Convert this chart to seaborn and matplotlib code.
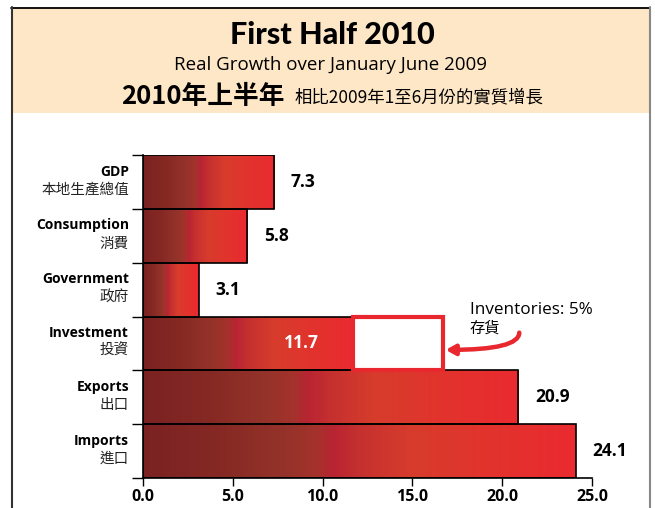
import numpy as np
import pandas as pd
import matplotlib
matplotlib.use("Agg")
import matplotlib.pyplot as plt
from matplotlib.colors import LinearSegmentedColormap
from matplotlib.patches import Rectangle
from matplotlib.lines import Line2D
import seaborn as sns

# --- data -----------------------------------------------------------------
categories_en = ["GDP", "Consumption", "Government", "Investment", "Exports", "Imports"]
categories_zh = ["本地生產總值", "消費", "政府", "投資", "出口", "進口"]
growth = [7.3, 5.8, 3.1, 11.7, 20.9, 24.1]
inventories = 5.0
inventories_label = "Inventories: 5%"
x_ticks = [0.0, 5.0, 10.0, 15.0, 20.0, 25.0]

df = pd.DataFrame({"category": categories_en, "growth": growth})

# --- style ----------------------------------------------------------------
sns.set_theme(style="white")
EN = ["Open Sans", "Noto Sans CJK TC", "DejaVu Sans"]
ZH = ["Noto Sans CJK TC", "DejaVu Sans"]
plt.rcParams["font.family"] = EN
for key in ["text.color", "axes.labelcolor", "xtick.color", "ytick.color"]:
    plt.rcParams[key] = "black"

fig = plt.figure(figsize=(6.55, 5.08), dpi=100)
fig.patch.set_facecolor("white")

# header band and frame
W, H = 655.0, 508.0
fig.add_artist(Rectangle((12 / W, 1 - 113 / H), (649 - 12) / W, (113 - 8) / H,
                         transform=fig.transFigure, facecolor="#fee7c6",
                         edgecolor="none", zorder=0))
fig.add_artist(Line2D([11 / W, 649 / W], [1 - 7.5 / H, 1 - 7.5 / H],
                      transform=fig.transFigure, color="black", lw=1.3))
fig.add_artist(Line2D([11.5 / W, 11.5 / W], [0, 1 - 7 / H],
                      transform=fig.transFigure, color="#333333", lw=1.5))
fig.add_artist(Line2D([649.5 / W, 649.5 / W], [0, 1 - 7 / H],
                      transform=fig.transFigure, color="#888888", lw=1.5))

fig.text(332 / W, 1 - 35 / H, "First Half 2010", ha="center", va="center",
         fontsize=22, fontweight="black", family=["Lato", "DejaVu Sans"])
fig.text(331 / W, 1 - 65 / H, "Real Growth over January June 2009",
         ha="center", va="center", fontsize=13.5, family=EN)
fig.text(121 / W, 1 - 96 / H, "2010年上半年", ha="left", va="center",
         fontsize=18.5, fontweight="bold", family=ZH)
fig.text(295 / W, 1 - 97 / H, "相比2009年1至6月份的實質增長", ha="left",
         va="center", fontsize=12.5, family=ZH)

# --- bars -----------------------------------------------------------------
ax = fig.add_axes([143 / W, (H - 478) / H, (592 - 143) / W, (478 - 155) / H])
sns.barplot(data=df, x="growth", y="category", orient="h", width=1.0,
            color="#d8302c", edgecolor="black", linewidth=1.2, ax=ax)

grad_cmap = LinearSegmentedColormap.from_list("bar_grad", [
    (0.00, "#7a2222"), (0.18, "#862924"), (0.33, "#95332a"),
    (0.40, "#a4322c"), (0.44, "#b92433"), (0.50, "#c5302f"),
    (0.62, "#d73c2c"), (0.80, "#e2332d"), (1.00, "#ea2a30")])
gradient = np.linspace(0, 1, 256).reshape(1, -1)

for patch in list(ax.patches):
    x0, y0 = patch.get_x(), patch.get_y()
    w, h = patch.get_width(), patch.get_height()
    im = ax.imshow(gradient, cmap=grad_cmap, aspect="auto",
                   extent=[x0, x0 + w, y0 + h, y0], zorder=1,
                   interpolation="bicubic")
    im.set_clip_path(patch)
    patch.set_facecolor("none")
    patch.set_zorder(2)

# inventories segment stacked on the investment bar
inv_idx = categories_en.index("Investment")
ax.barh(inv_idx, inventories, left=growth[inv_idx], height=1.0,
        facecolor="white", edgecolor="#e8272e", linewidth=3, zorder=3)

ax.set_xlim(0, 25)
ax.set_ylim(len(categories_en) - 0.5, -0.5)

# value labels
for i, v in enumerate(growth):
    if categories_en[i] == "Investment":
        ax.text(v - 2.9, i, f"{v:.1f}", ha="center", va="center",
                color="white", fontsize=12.5, fontweight="bold", zorder=4)
    else:
        ax.annotate(f"{v:.1f}", xy=(v, i), xytext=(12, 0),
                    textcoords="offset points", ha="left", va="center",
                    fontsize=12.5, fontweight="bold", color="black")

# two-line category labels
for i, (en, zh) in enumerate(zip(categories_en, categories_zh)):
    ax.annotate(en, xy=(0, i), xytext=(-10, 7.5), textcoords="offset points",
                ha="right", va="center", fontsize=10, fontweight="bold",
                annotation_clip=False)
    ax.annotate(zh, xy=(0, i), xytext=(-10, -5.5), textcoords="offset points",
                ha="right", va="center", fontsize=10.5, family=ZH,
                color="#222222", annotation_clip=False)

# inventories callout
ax.text(18.2, 2.38, inventories_label, ha="left", va="center", fontsize=12.3)
ax.text(18.2, 2.72, "存貨", ha="left", va="center", fontsize=11, family=ZH)
ax.annotate("", xy=(16.85, 3.12), xytext=(20.95, 2.8),
            arrowprops=dict(arrowstyle="-|>,head_length=0.45,head_width=0.25",
                            color="#e8272e", lw=3.2,
                            connectionstyle="angle3,angleA=90,angleB=0",
                            shrinkA=0, shrinkB=0), annotation_clip=False)

# axes styling
ax.set_xlabel("")
ax.set_ylabel("")
ax.set_xticks(x_ticks)
ax.set_xticklabels([f"{t:.1f}" for t in x_ticks], fontsize=11.5,
                   fontweight="bold")
ax.set_yticks(np.arange(-0.5, len(categories_en) + 0.5, 1.0))
ax.set_yticklabels([])
ax.tick_params(axis="y", length=8, width=1, color="black", left=True)
ax.tick_params(axis="x", length=6, width=1, color="black", bottom=True, pad=2)
for side in ["top", "right"]:
    ax.spines[side].set_visible(False)
for side in ["left", "bottom"]:
    ax.spines[side].set_color("black")
    ax.spines[side].set_linewidth(1.2)
ax.set_facecolor("none")

fig.savefig("out.png", dpi=100)
